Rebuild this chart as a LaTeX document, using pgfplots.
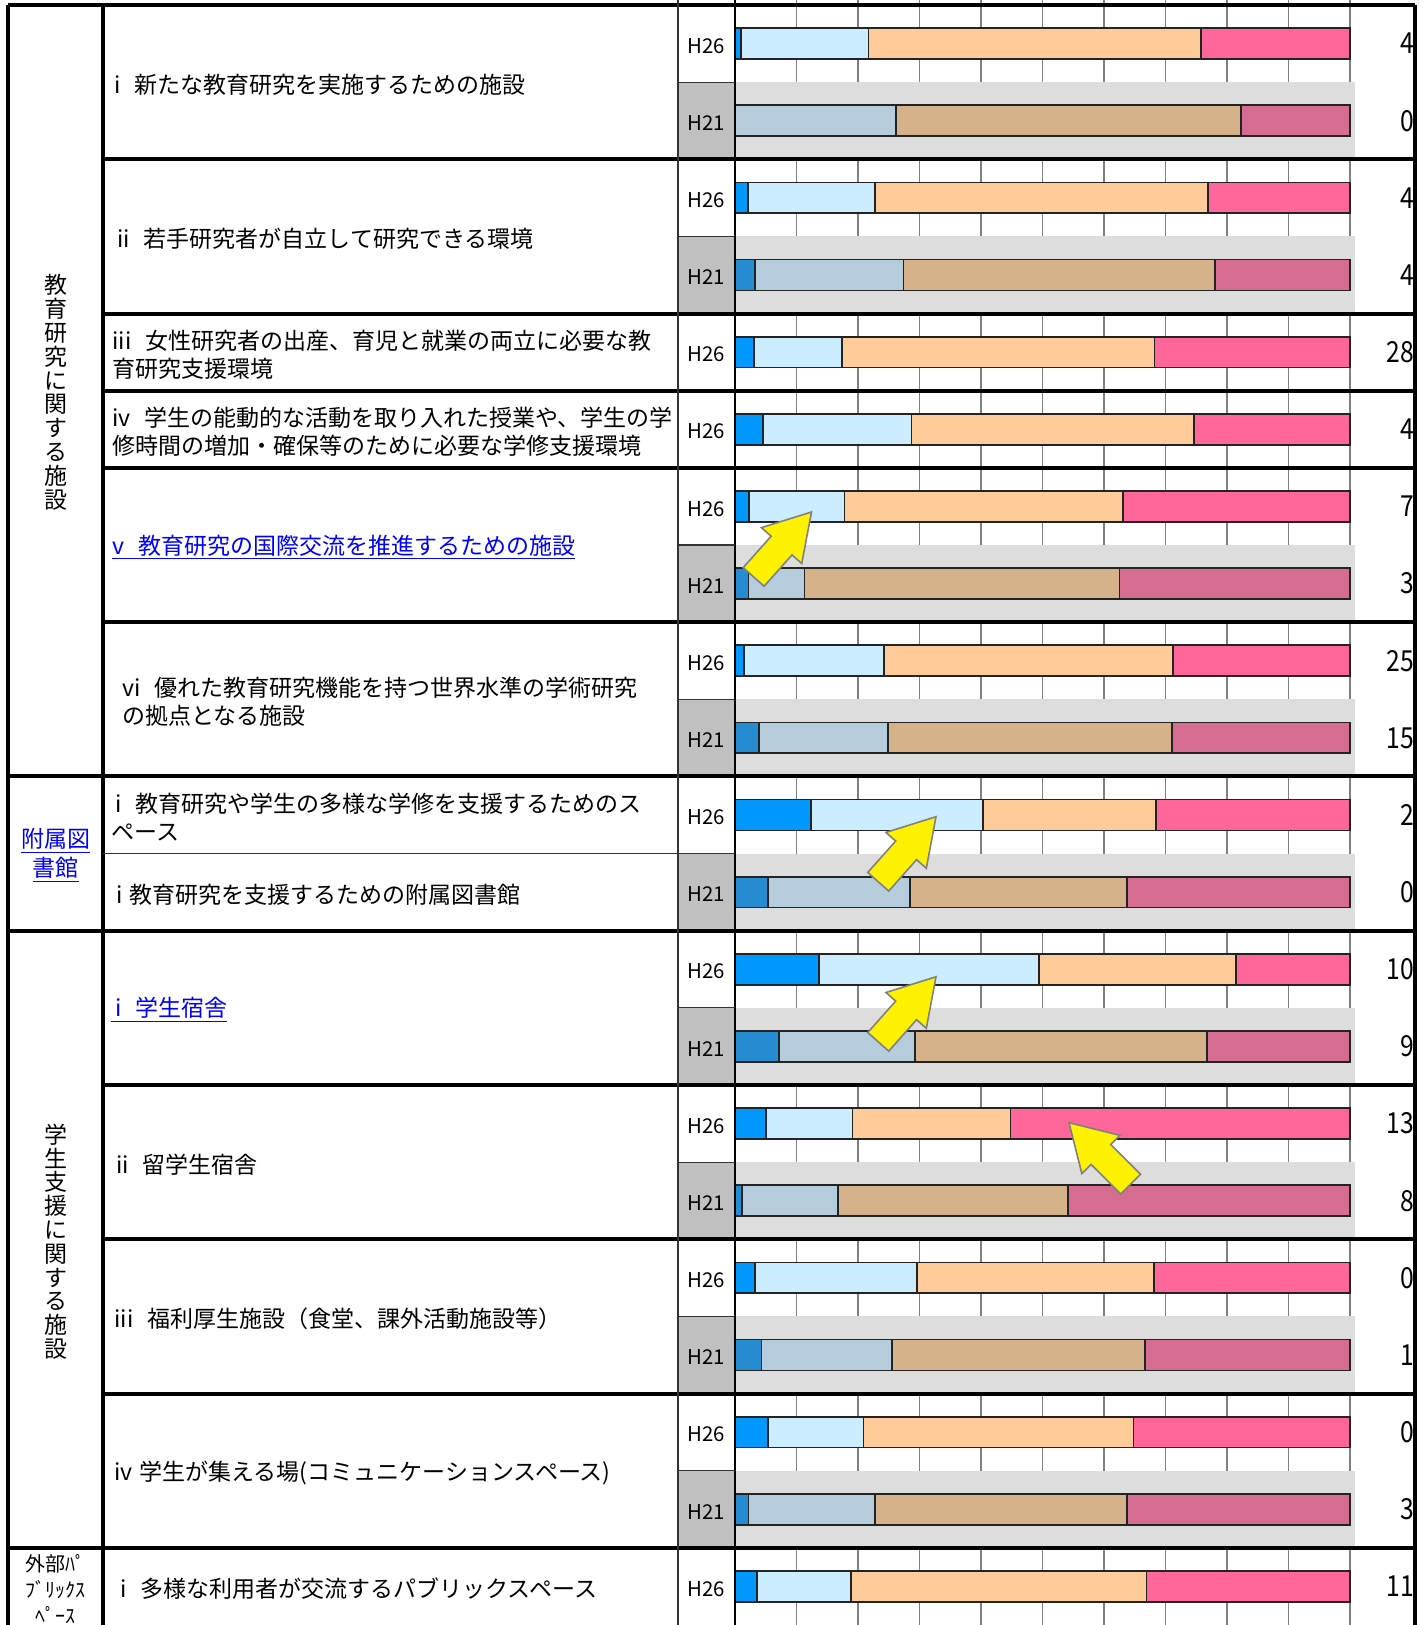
\documentclass[border=0pt]{standalone}
\usepackage{fontspec}
\setmainfont{Noto Sans CJK JP}
\usepackage{graphicx}
\usepackage{pgfplots}
\usepackage{pgfplotstable}
\pgfplotsset{compat=1.18}

\definecolor{c1}{RGB}{0,153,255}
\definecolor{c2}{RGB}{204,236,255}
\definecolor{c3}{RGB}{255,204,153}
\definecolor{c4}{RGB}{255,102,153}
\definecolor{d1}{RGB}{38,140,210}
\definecolor{d2}{RGB}{180,204,220}
\definecolor{d3}{RGB}{214,178,138}
\definecolor{d4}{RGB}{214,108,145}
\definecolor{bgtex}{RGB}{221,221,221}
\definecolor{cellgray}{RGB}{192,192,192}
\definecolor{gridc}{RGB}{128,128,128}
\definecolor{barline}{RGB}{35,35,35}
\definecolor{linkblue}{RGB}{0,0,255}

% H26 shares (%), y = half-row centre
\pgfplotstableread{
y    a    b    c    d
0.5  1.0  20.7 54.1 24.2
2.5  2.1  20.7 54.1 23.1
4.5  3.1  14.3 50.8 31.8
5.5  4.6  24.1 45.9 25.4
6.5  2.3  15.5 45.3 36.9
8.5  1.4  22.8 47.0 28.8
10.5 12.3 28.0 28.1 31.6
12.5 13.6 35.8 32.0 18.6
14.5 5.0  14.1 25.7 55.2
16.5 3.2  26.4 38.5 31.9
18.5 5.4  15.5 43.9 35.2
20.5 3.6  15.2 48.1 33.1
}\hnew

% H21 shares (%)
\pgfplotstableread{
y    a    b    c    d
1.5  0.0  26.2 56.1 17.7
3.5  3.2  24.2 50.6 22.0
7.5  2.2  9.1  51.2 37.5
9.5  3.9  21.0 46.1 29.0
11.5 5.4  23.1 35.2 36.3
13.5 7.2  22.0 47.6 23.2
15.5 1.1  15.7 37.4 45.8
17.5 4.3  21.2 41.1 33.4
19.5 2.2  20.5 41.0 36.3
}\hold

\pgfplotsset{
  base/.style={scale only axis, width=712pt, height=812.5pt,
    xmin=-119.51, xmax=112.03, ymin=-0.0648, ymax=21, y dir=reverse,
    hide axis, clip=false, xbar stacked, bar width=0.4},
  seg/.style={fill=#1, draw=barline, line width=0.9pt},
}
\tikzset{
  jt/.style={anchor=west, align=left, inner sep=0pt, font=\fontsize{11.5}{14}\selectfont},
  hl/.style={inner sep=0pt, font=\fontsize{10.2}{12}\selectfont},
  nr/.style={anchor=east, inner sep=0pt, font=\fontsize{14.5}{16}\selectfont},
  thk/.style={black, line width=2pt},
  thn/.style={black!80, line width=0.6pt},
}
\newcommand{\gap}{\hspace{0.6em}}
\newcommand{\num}[2]{\node[nr] at (axis cs:110.5,#1) {\scalebox{0.85}[1]{#2}};}
\newcommand{\yarrow}[3]{%
  \draw[fill=yellow, draw=gridc, line width=0.8pt, line join=miter]
    (axis cs:#1,#2) -- +({#3+149.04}:26.24pt) -- +({#3+162.72}:23.56pt)
    -- +({#3+170.86}:44.06pt) -- +({#3+189.14}:44.06pt)
    -- +({#3+197.28}:23.56pt) -- +({#3+210.96}:26.24pt) -- cycle;}

\begin{document}
\begin{tikzpicture}
% layer 1: backgrounds and grid
\begin{axis}[base]
  \fill[bgtex] (axis cs:0,1) rectangle (axis cs:100.8,2);
  \fill[bgtex] (axis cs:0,3) rectangle (axis cs:100.8,4);
  \fill[bgtex] (axis cs:0,7) rectangle (axis cs:100.8,8);
  \fill[bgtex] (axis cs:0,9) rectangle (axis cs:100.8,10);
  \fill[bgtex] (axis cs:0,11) rectangle (axis cs:100.8,12);
  \fill[bgtex] (axis cs:0,13) rectangle (axis cs:100.8,14);
  \fill[bgtex] (axis cs:0,15) rectangle (axis cs:100.8,16);
  \fill[bgtex] (axis cs:0,17) rectangle (axis cs:100.8,18);
  \fill[bgtex] (axis cs:0,19) rectangle (axis cs:100.8,20);
  \fill[cellgray] (axis cs:-9.27,1) rectangle (axis cs:0,2);
  \fill[cellgray] (axis cs:-9.27,3) rectangle (axis cs:0,4);
  \fill[cellgray] (axis cs:-9.27,7) rectangle (axis cs:0,8);
  \fill[cellgray] (axis cs:-9.27,9) rectangle (axis cs:0,10);
  \fill[cellgray] (axis cs:-9.27,11) rectangle (axis cs:0,12);
  \fill[cellgray] (axis cs:-9.27,13) rectangle (axis cs:0,14);
  \fill[cellgray] (axis cs:-9.27,15) rectangle (axis cs:0,16);
  \fill[cellgray] (axis cs:-9.27,17) rectangle (axis cs:0,18);
  \fill[cellgray] (axis cs:-9.27,19) rectangle (axis cs:0,20);
  \pgfplotsinvokeforeach{10,20,...,100}{
    \draw[gridc, line width=0.7pt] (axis cs:#1,-0.0648) -- (axis cs:#1,21);}
\end{axis}

% layer 2: H26 bars
\begin{axis}[base]
  \addplot[seg=c1] table[x=a,y=y]{\hnew};
  \addplot[seg=c2] table[x=b,y=y]{\hnew};
  \addplot[seg=c3] table[x=c,y=y]{\hnew};
  \addplot[seg=c4] table[x=d,y=y]{\hnew};
\end{axis}

% layer 3: H21 bars
\begin{axis}[base]
  \addplot[seg=d1] table[x=a,y=y]{\hold};
  \addplot[seg=d2] table[x=b,y=y]{\hold};
  \addplot[seg=d3] table[x=c,y=y]{\hold};
  \addplot[seg=d4] table[x=d,y=y]{\hold};
\end{axis}

% layer 4: rules, text, arrows
\begin{axis}[base]
  \draw[thn] (axis cs:-9.27,1) -- (axis cs:0,1);
  \draw[thn] (axis cs:-9.27,3) -- (axis cs:0,3);
  \draw[thn] (axis cs:-9.27,7) -- (axis cs:0,7);
  \draw[thn] (axis cs:-9.27,9) -- (axis cs:0,9);
  \draw[thn] (axis cs:-102.76,11) -- (axis cs:0,11);
  \draw[thn] (axis cs:-9.27,13) -- (axis cs:0,13);
  \draw[thn] (axis cs:-9.27,15) -- (axis cs:0,15);
  \draw[thn] (axis cs:-9.27,17) -- (axis cs:0,17);
  \draw[thn] (axis cs:-9.27,19) -- (axis cs:0,19);
  \draw[thn] (axis cs:-9.27,-0.0648) -- (axis cs:-9.27,21);
  \draw[black, line width=0.8pt] (axis cs:0,-0.0648) -- (axis cs:0,21);
  \draw[thk] (axis cs:-118.21,0) -- (axis cs:110.57,0);
  \draw[thk] (axis cs:-118.21,10) -- (axis cs:110.57,10);
  \draw[thk] (axis cs:-118.21,12) -- (axis cs:110.57,12);
  \draw[thk] (axis cs:-118.21,20) -- (axis cs:110.57,20);
  \pgfplotsinvokeforeach{2,4,5,6,8,14,16,18}{
    \draw[thk] (axis cs:-102.76,#1) -- (axis cs:110.57,#1);}
  \draw[black, line width=1.6pt] (axis cs:-118.21,0) -- (axis cs:-118.21,21);
  \draw[black, line width=1.6pt] (axis cs:-102.76,0) -- (axis cs:-102.76,21);
  \draw[black, line width=1.6pt] (axis cs:110.57,0) -- (axis cs:110.57,21);

  % categories
  \node[align=center, inner sep=0pt, font=\fontsize{11.5}{11.9}\selectfont]
    at (axis cs:-110.41,5.02) {教\\育\\研\\究\\に\\関\\す\\る\\施\\設};
  \node[align=center, inner sep=0pt, text=linkblue, font=\fontsize{11.5}{14.5}\selectfont]
    at (axis cs:-110.41,11.02) {\underline{附属図}\\\underline{書館}};
  \node[align=center, inner sep=0pt, font=\fontsize{11.5}{11.9}\selectfont]
    at (axis cs:-110.41,16.03) {学\\生\\支\\援\\に\\関\\す\\る\\施\\設};
  \node[align=center, inner sep=0pt, font=\fontsize{10}{13}\selectfont]
    at (axis cs:-110.41,20.53) {外部ﾊﾟ\\ﾌﾞﾘｯｸｽ\\ﾍﾟｰｽ};

  % items
  \node[jt] at (axis cs:-100.98,1.03) {i\gap 新たな教育研究を実施するための施設};
  \node[jt] at (axis cs:-100.49,3.03) {ii\gap 若手研究者が自立して研究できる環境};
  \node[jt] at (axis cs:-101.30,4.53) {iii\gap 女性研究者の出産、育児と就業の両立に必要な教\\育研究支援環境};
  \node[jt] at (axis cs:-101.30,5.53) {iv\gap 学生の能動的な活動を取り入れた授業や、学生の学\\修時間の増加・確保等のために必要な学修支援環境};
  \node[jt, text=linkblue] at (axis cs:-101.30,7.03) {\underline{v\gap 教育研究の国際交流を推進するための施設}};
  \node[jt] at (axis cs:-99.67,9.03) {vi\gap 優れた教育研究機能を持つ世界水準の学術研究\\の拠点となる施設};
  \node[jt] at (axis cs:-101.46,10.53) {\,i\gap 教育研究や学生の多様な学修を支援するためのス\\ペース};
  \node[jt] at (axis cs:-100.65,11.53) {i\hspace{0.3em}教育研究を支援するための附属図書館};
  \node[jt, text=linkblue] at (axis cs:-101.46,13.03) {\underline{\,i\gap 学生宿舎}};
  \node[jt] at (axis cs:-100.65,15.03) {ii\gap 留学生宿舎};
  \node[jt] at (axis cs:-100.98,17.03) {iii\gap 福利厚生施設（食堂、課外活動施設等）};
  \node[jt] at (axis cs:-100.98,19.03) {iv\hspace{0.3em}学生が集える場(コミュニケーションスペース)};
  \node[jt] at (axis cs:-100.0,20.53) {i\gap 多様な利用者が交流するパブリックスペース};

  % year labels
  \pgfplotsinvokeforeach{0.5,2.5,4.5,5.5,6.5,8.5,10.5,12.5,14.5,16.5,18.5,20.5}{
    \node[hl] at (axis cs:-4.72,#1+0.03) {H26};}
  \pgfplotsinvokeforeach{1.5,3.5,7.5,9.5,11.5,13.5,15.5,17.5,19.5}{
    \node[hl] at (axis cs:-4.72,#1+0.03) {H21};}

  % right column
  \num{0.5}{4}  \num{1.5}{0}  \num{2.5}{4}  \num{3.5}{4}
  \num{4.5}{28} \num{5.5}{4}  \num{6.5}{7}  \num{7.5}{3}
  \num{8.5}{25} \num{9.5}{15} \num{10.5}{2} \num{11.5}{0}
  \num{12.5}{10} \num{13.5}{9} \num{14.5}{13} \num{15.5}{8}
  \num{16.5}{0} \num{17.5}{1} \num{18.5}{0} \num{19.5}{3}
  \num{20.5}{11}

  \yarrow{12.44}{6.572}{48.3}
  \yarrow{32.68}{10.522}{48.4}
  \yarrow{32.68}{12.597}{48.4}
  \yarrow{54.31}{14.489}{135.1}
\end{axis}
\pgfresetboundingbox
\path[use as bounding box] (0,0) rectangle (712pt,812.5pt);
\end{tikzpicture}
\end{document}
